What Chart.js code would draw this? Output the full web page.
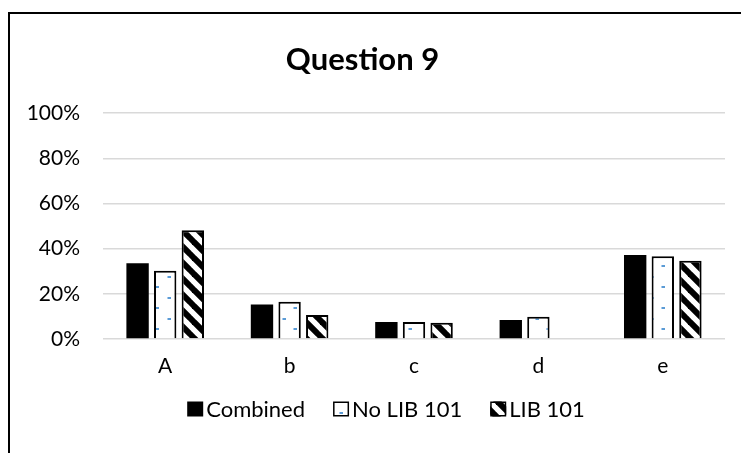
<!DOCTYPE html>
<html>
<head>
<meta charset="utf-8">
<title>Question 9</title>
<script src="https://cdn.jsdelivr.net/npm/chart.js@4.4.1/dist/chart.umd.min.js"></script>
<style>
  html, body { margin: 0; padding: 0; background: #fff; }
  #wrap { width: 741px; height: 453px; position: relative; overflow: hidden; }
  canvas { display: block; }
</style>
</head>
<body>
<div id="wrap"><canvas id="c" width="741" height="453" style="width:741px;height:453px"></canvas></div>
<script>
// Answer shares per option (percent of respondents)
const categories = ['A', 'b', 'c', 'd', 'e'];
const seriesNames = ['Combined', 'No LIB 101', 'LIB 101'];
const combined = [33.5, 15.3, 7.5, 8.4, 37.2];
const noLib101 = [30.2, 16.5, 7.5, 9.9, 36.7];
const lib101   = [48.2, 10.6, 7.2, 0, 34.6];
const yTicks   = [0, 20, 40, 60, 80, 100];

const FONT = 'Lato, "Open Sans", sans-serif';
const canvas = document.getElementById('c');
const mainCtx = canvas.getContext('2d');

// Sparse light-blue dot fill
function dotPattern() {
  const t = document.createElement('canvas');
  t.width = 23; t.height = 21;
  const g = t.getContext('2d');
  g.fillStyle = '#ffffff';
  g.fillRect(0, 0, t.width, t.height);
  g.fillStyle = '#5b9bd5';
  g.fillRect(7, 3, 3, 2);
  g.fillRect(18, 13, 3, 2);
  g.fillStyle = '#a9cbee';
  g.fillRect(6, 3, 1, 2);
  g.fillRect(17, 13, 1, 2);
  return mainCtx.createPattern(t, 'repeat');
}

// Wide downward diagonal stripes
function stripePattern() {
  const s = 16;
  const t = document.createElement('canvas');
  t.width = s; t.height = s;
  const g = t.getContext('2d');
  g.fillStyle = '#ffffff';
  g.fillRect(0, 0, s, s);
  g.strokeStyle = '#000000';
  g.lineWidth = 6;
  for (let k = -1; k <= 1; k++) {
    g.beginPath();
    g.moveTo(k * s - 2, -2);
    g.lineTo(k * s + s + 2, s + 2);
    g.stroke();
  }
  return mainCtx.createPattern(t, 'repeat');
}

// White background and outer chart frame
const framePlugin = {
  id: 'frame',
  beforeDraw(chart) {
    const ctx = chart.ctx;
    ctx.save();
    ctx.fillStyle = '#ffffff';
    ctx.fillRect(0, 0, chart.width, chart.height);
    ctx.strokeStyle = '#000000';
    ctx.lineWidth = 2;
    ctx.strokeRect(9, 13, 900, 600);
    ctx.restore();
  }
};

// Legend row under the axis, built from the datasets
const legendPlugin = {
  id: 'bottomLegend',
  afterDraw(chart) {
    const ctx = chart.ctx;
    ctx.save();
    ctx.font = '22px ' + FONT;
    const box = 16, boxH = 15, gap = 3, spacing = 28;
    const items = chart.data.datasets.map(ds => ({ ds, text: ds.label, w: ctx.measureText(ds.label).width }));
    const total = items.reduce((a, it) => a + box + gap + it.w, 0) + spacing * (items.length - 1);
    let x = 386 - total / 2;
    const yc = 409;
    items.forEach(it => {
      ctx.fillStyle = it.ds.backgroundColor;
      ctx.fillRect(x, yc - boxH / 2, box, boxH);
      if (it.ds.borderWidth) {
        ctx.strokeStyle = '#000000';
        ctx.lineWidth = 1.5;
        ctx.strokeRect(x + 0.75, yc - boxH / 2 + 0.75, box - 1.5, boxH - 1.5);
      }
      ctx.fillStyle = '#000000';
      ctx.textAlign = 'left';
      ctx.textBaseline = 'middle';
      ctx.fillText(it.text, x + box + gap, yc + 1);
      x += box + gap + it.w + spacing;
    });
    ctx.restore();
  }
};

const barCommon = { categoryPercentage: 0.666, barPercentage: 0.81 };

new Chart(canvas, {
  type: 'bar',
  data: {
    labels: categories,
    datasets: [
      Object.assign({ label: seriesNames[0], data: combined, backgroundColor: '#000000', borderWidth: 0 }, barCommon),
      Object.assign({ label: seriesNames[1], data: noLib101, backgroundColor: dotPattern(), borderColor: '#000000', borderWidth: 2 }, barCommon),
      Object.assign({ label: seriesNames[2], data: lib101, backgroundColor: stripePattern(), borderColor: '#000000', borderWidth: 2 }, barCommon)
    ]
  },
  options: {
    responsive: false,
    animation: false,
    events: [],
    layout: { padding: { left: 0, right: 16, top: 0, bottom: 74 } },
    plugins: {
      legend: { display: false },
      tooltip: { enabled: false },
      title: {
        display: true,
        text: 'Question 9',
        color: '#000000',
        font: { family: FONT, size: 31, weight: 'bold' },
        padding: { top: 41, bottom: 35 }
      }
    },
    scales: {
      x: {
        grid: { display: false, drawTicks: false },
        border: { display: false },
        ticks: { color: '#000000', font: { family: FONT, size: 21 }, padding: 15, maxRotation: 0 },
        afterFit(scale) { scale.height = 40; }
      },
      y: {
        min: 0,
        max: 100,
        afterBuildTicks(scale) { scale.ticks = yTicks.map(v => ({ value: v })); },
        grid: { color: '#d9d9d9', lineWidth: 1.5, drawTicks: false },
        border: { display: false },
        ticks: {
          color: '#000000',
          font: { family: FONT, size: 21 },
          padding: 23,
          callback: v => v + '%'
        },
        afterFit(scale) { scale.width = 103; }
      }
    }
  },
  plugins: [framePlugin, legendPlugin]
});
</script>
</body>
</html>
